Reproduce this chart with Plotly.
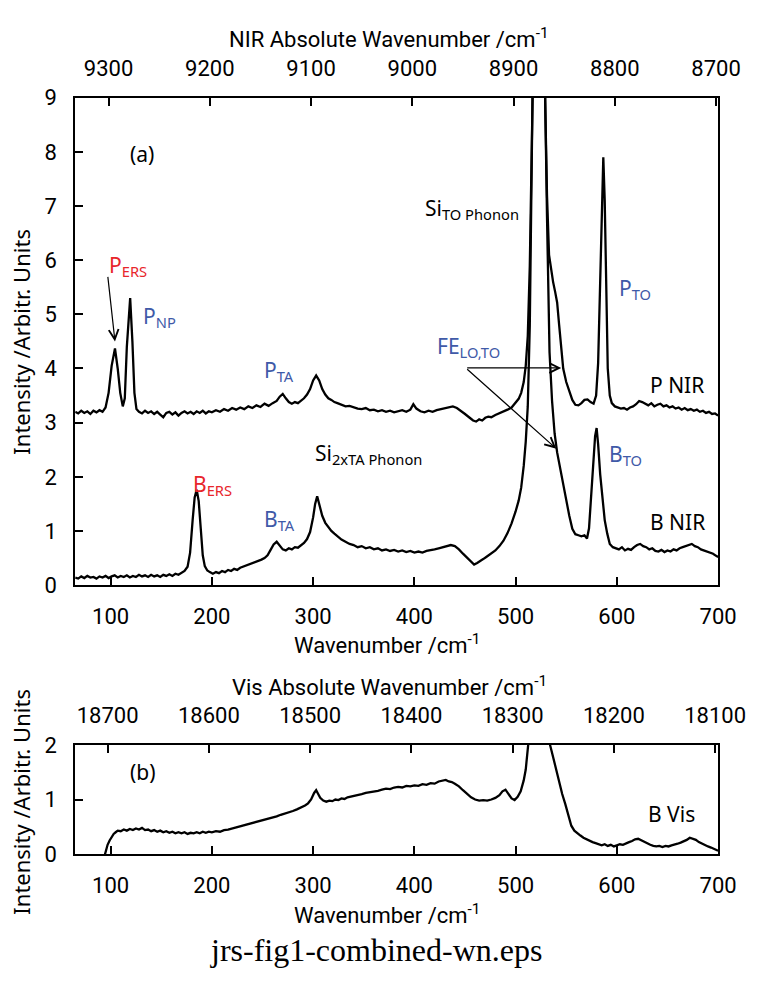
import plotly.graph_objects as go

# ---------------- data (Raman shift / cm^-1 , intensity) ----------------
p_nir_x = [65, 68, 71, 74, 77, 80, 83, 86, 89, 92, 95, 98, 101, 104.3, 107, 109.5, 112, 114, 116, 119.3,
           121.5, 123.5, 125.5, 128, 131, 134, 137, 140, 143, 146, 149, 152, 155, 158, 161, 164, 167, 170,
           173, 176, 179, 182, 185, 188, 191, 194, 197, 200, 204, 208, 212, 216, 220, 224, 228, 232, 236,
           240, 244, 248, 252, 256, 260, 264, 267, 270, 273, 276, 279, 282, 285, 288, 291, 294, 297, 300,
           303, 306, 309, 312, 315, 318, 321, 324, 328, 332, 336, 340, 344, 348, 352, 356, 360, 364, 368,
           372, 376, 380, 384, 388, 392, 396, 399, 402, 406, 410, 414, 418, 422, 426, 430, 434, 438, 442,
           446, 450, 454, 458, 461, 464, 467, 470, 473, 476, 480, 484, 488, 492, 496, 500, 503, 505.5, 508,
           510, 512, 514, 515.5, 517, 520, 523, 526, 528.5, 529.5, 531, 533, 535, 537, 539, 541, 543, 545,
           547, 550, 553, 556, 559, 562, 565, 568, 571, 574, 577, 579.5, 581.5, 583.5, 585.5, 586.6, 588,
           589.5, 591, 593, 595, 598, 601, 604, 607, 610, 613, 616, 619, 622, 625, 628, 631, 634, 637, 640,
           643, 646, 649, 652, 655, 658, 661, 664, 667, 670, 673, 676, 679, 682, 685, 688, 691, 694, 697, 700]
p_nir_y = [3.20, 3.17, 3.22, 3.18, 3.21, 3.16, 3.22, 3.19, 3.23, 3.20, 3.28, 3.55, 4.05, 4.37, 4.00, 3.55,
           3.30, 3.45, 4.40, 5.30, 4.50, 3.55, 3.25, 3.20, 3.17, 3.22, 3.18, 3.21, 3.16, 3.20, 3.15, 3.10,
           3.18, 3.20, 3.15, 3.19, 3.13, 3.18, 3.21, 3.17, 3.20, 3.16, 3.21, 3.18, 3.22, 3.17, 3.21, 3.19,
           3.23, 3.20, 3.25, 3.22, 3.27, 3.24, 3.28, 3.25, 3.30, 3.27, 3.32, 3.29, 3.35, 3.31, 3.36, 3.40,
           3.48, 3.53, 3.45, 3.38, 3.35, 3.38, 3.36, 3.40, 3.45, 3.52, 3.62, 3.78, 3.87, 3.78, 3.62, 3.52,
           3.45, 3.42, 3.38, 3.36, 3.33, 3.30, 3.31, 3.28, 3.26, 3.25, 3.27, 3.23, 3.24, 3.21, 3.23, 3.20,
           3.22, 3.19, 3.21, 3.23, 3.20, 3.24, 3.34, 3.26, 3.21, 3.19, 3.22, 3.20, 3.23, 3.25, 3.27, 3.28,
           3.30, 3.27, 3.22, 3.16, 3.10, 3.04, 3.02, 3.06, 3.04, 3.09, 3.11, 3.10, 3.14, 3.17, 3.20, 3.24,
           3.28, 3.36, 3.44, 3.55, 3.75, 4.05, 4.60, 5.90, 7.60, 9.60, 14.0, 16.0, 12.0, 9.60, 9.00, 7.20,
           6.10, 5.80, 5.60, 5.42, 5.22, 4.80, 4.38, 4.00, 3.75, 3.58, 3.42, 3.33, 3.32, 3.36, 3.42, 3.43,
           3.38, 3.35, 3.50, 4.10, 5.60, 7.40, 7.90, 7.10, 5.40, 4.00, 3.50, 3.36, 3.30, 3.28, 3.26, 3.27,
           3.24, 3.28, 3.30, 3.34, 3.40, 3.38, 3.35, 3.32, 3.36, 3.30, 3.33, 3.35, 3.30, 3.32, 3.28, 3.30,
           3.26, 3.28, 3.24, 3.27, 3.23, 3.25, 3.22, 3.24, 3.20, 3.22, 3.18, 3.20, 3.16, 3.17, 3.13]

b_nir_x = [65, 68, 71, 74, 77, 80, 83, 86, 89, 92, 95, 98, 101, 104, 107, 110, 113, 116, 119, 122, 125, 128,
           131, 134, 137, 140, 143, 146, 149, 152, 155, 158, 161, 164, 167, 170, 173, 176, 178.5, 181, 183,
           185, 187, 189, 191, 193, 195.5, 198, 201, 204, 207, 210, 213, 216, 219, 222, 225, 228, 231, 234,
           237, 240, 243, 246, 249, 252, 255, 258, 261, 264, 267, 270, 273, 276, 279, 282, 285, 288, 291,
           294, 297, 300, 302, 304, 306, 309, 312, 315, 318, 321, 324, 328, 332, 336, 340, 344, 348, 352,
           356, 360, 364, 368, 372, 376, 380, 384, 388, 392, 396, 400, 404, 408, 412, 416, 420, 424, 428,
           432, 436, 440, 444, 448, 452, 456, 459, 462, 465, 468, 471, 474, 477, 480, 484, 488, 492, 496,
           500, 503, 505.5, 508, 510, 512, 514, 516, 517.5, 520.5, 524, 527, 529, 531, 533.5, 536, 538.5,
           541, 544, 547, 550, 553, 556, 559, 562, 565, 568, 570.5, 572.5, 574.5, 576.5, 578.5, 580, 581.5,
           583.5, 585.5, 588, 590.5, 593, 596, 599, 602, 605, 608, 611, 614, 617, 620, 623, 626, 629, 632,
           635, 638, 641, 644, 647, 650, 653, 656, 659, 662, 665, 668, 671, 674, 677, 680, 683, 686, 689,
           692, 695, 698, 700]
b_nir_y = [0.14, 0.12, 0.16, 0.13, 0.17, 0.14, 0.15, 0.12, 0.16, 0.14, 0.17, 0.13, 0.16, 0.18, 0.14, 0.17,
           0.15, 0.18, 0.14, 0.17, 0.15, 0.19, 0.16, 0.18, 0.15, 0.19, 0.16, 0.18, 0.15, 0.19, 0.17, 0.20,
           0.17, 0.21, 0.19, 0.23, 0.26, 0.34, 0.60, 1.20, 1.62, 1.76, 1.55, 1.05, 0.55, 0.35, 0.27, 0.24,
           0.21, 0.24, 0.22, 0.26, 0.24, 0.28, 0.26, 0.30, 0.28, 0.32, 0.34, 0.36, 0.38, 0.40, 0.42, 0.45,
           0.47, 0.50, 0.55, 0.65, 0.75, 0.80, 0.74, 0.66, 0.64, 0.68, 0.66, 0.70, 0.69, 0.73, 0.78, 0.85,
           0.98, 1.25, 1.50, 1.64, 1.50, 1.28, 1.15, 1.07, 1.00, 0.95, 0.90, 0.84, 0.80, 0.76, 0.74, 0.70,
           0.72, 0.68, 0.70, 0.66, 0.68, 0.64, 0.66, 0.63, 0.65, 0.62, 0.64, 0.61, 0.63, 0.60, 0.62, 0.60,
           0.63, 0.64, 0.66, 0.68, 0.70, 0.72, 0.74, 0.72, 0.66, 0.58, 0.50, 0.44, 0.38, 0.41, 0.44, 0.48,
           0.52, 0.56, 0.60, 0.64, 0.72, 0.82, 0.96, 1.14, 1.36, 1.56, 1.80, 2.20, 2.65, 3.30, 4.80, 7.50,
           9.70, 15.0, 13.0, 10.5, 9.20, 6.80, 4.30, 3.40, 2.80, 2.45, 2.15, 1.88, 1.58, 1.28, 1.04, 0.94,
           0.92, 0.90, 0.92, 0.86, 1.05, 1.60, 2.30, 2.75, 2.90, 2.60, 2.05, 1.60, 1.20, 0.95, 0.76, 0.70,
           0.68, 0.66, 0.70, 0.64, 0.67, 0.65, 0.70, 0.74, 0.76, 0.72, 0.70, 0.66, 0.68, 0.63, 0.62, 0.65,
           0.61, 0.64, 0.62, 0.66, 0.64, 0.68, 0.70, 0.72, 0.74, 0.76, 0.72, 0.70, 0.66, 0.64, 0.61, 0.60,
           0.58, 0.54, 0.52]

b_vis_x = [93, 95, 97, 99, 101, 103, 105, 107, 110, 113, 116, 119, 122, 125, 128, 131, 134, 137, 140, 143,
           146, 149, 152, 155, 158, 161, 164, 167, 170, 173, 176, 179, 182, 185, 188, 191, 194, 197, 200,
           204, 208, 212, 216, 220, 224, 228, 232, 236, 240, 244, 248, 252, 256, 260, 264, 268, 272, 276,
           280, 284, 288, 292, 295, 298, 301, 303, 305, 307, 310, 313, 316, 319, 322, 325, 328, 331, 334,
           337, 340, 344, 348, 352, 356, 360, 364, 368, 372, 376, 380, 384, 388, 392, 396, 400, 404, 408,
           412, 416, 420, 424, 428, 431, 434, 437, 440, 444, 448, 452, 456, 460, 464, 468, 472, 476, 480,
           484, 487, 490, 493, 496, 499, 502, 505, 508, 510, 512, 514, 518, 522, 528, 532, 534, 537, 540,
           543, 546, 549, 552, 555, 558, 561, 564, 567, 570, 573, 576, 579, 582, 585, 588, 591, 594, 597,
           600, 603, 606, 609, 612, 615, 618, 621, 624, 627, 630, 633, 636, 639, 642, 645, 648, 651, 654,
           657, 660, 663, 666, 669, 672, 675, 678, 681, 684, 687, 690, 693, 696, 699, 700]
b_vis_y = [-0.10, 0.05, 0.17, 0.25, 0.32, 0.37, 0.40, 0.43, 0.42, 0.45, 0.43, 0.46, 0.44, 0.47, 0.45, 0.48,
           0.44, 0.45, 0.42, 0.44, 0.41, 0.43, 0.40, 0.42, 0.39, 0.41, 0.38, 0.40, 0.38, 0.40, 0.37, 0.39,
           0.38, 0.40, 0.38, 0.41, 0.39, 0.41, 0.40, 0.42, 0.41, 0.44, 0.45, 0.47, 0.48, 0.51, 0.52, 0.55,
           0.56, 0.59, 0.60, 0.63, 0.64, 0.67, 0.69, 0.72, 0.74, 0.77, 0.79, 0.82, 0.85, 0.89, 0.93, 1.00,
           1.12, 1.17, 1.10, 1.03, 0.98, 0.96, 0.98, 0.97, 1.00, 0.99, 1.02, 1.01, 1.04, 1.05, 1.07, 1.08,
           1.10, 1.12, 1.13, 1.15, 1.16, 1.18, 1.20, 1.19, 1.22, 1.23, 1.22, 1.25, 1.24, 1.26, 1.25, 1.28,
           1.27, 1.30, 1.29, 1.33, 1.35, 1.36, 1.33, 1.32, 1.29, 1.24, 1.17, 1.10, 1.04, 1.00, 0.98, 0.99,
           0.98, 1.00, 1.03, 1.08, 1.15, 1.18, 1.10, 1.02, 0.99, 1.05, 1.15, 1.35, 1.55, 1.85, 2.30, 4.00,
           5.00, 4.00, 2.50, 2.00, 1.78, 1.55, 1.30, 1.10, 0.92, 0.72, 0.52, 0.43, 0.38, 0.34, 0.30, 0.27,
           0.25, 0.22, 0.20, 0.18, 0.16, 0.18, 0.15, 0.17, 0.14, 0.16, 0.18, 0.17, 0.20, 0.22, 0.24, 0.27,
           0.28, 0.25, 0.22, 0.19, 0.17, 0.15, 0.14, 0.15, 0.13, 0.15, 0.14, 0.16, 0.17, 0.19, 0.21, 0.23,
           0.26, 0.30, 0.28, 0.26, 0.22, 0.19, 0.16, 0.14, 0.12, 0.10, 0.07, 0.06]

shift_range = [65, 700]
shift_ticks = [100, 200, 300, 400, 500, 600, 700]
nir_laser = 9398.0      # 1064 nm excitation, cm^-1
vis_laser = 18797.0     # 532 nm excitation, cm^-1
nir_ticks = [9300, 9200, 9100, 9000, 8900, 8800, 8700]
vis_ticks = [18700, 18600, 18500, 18400, 18300, 18200, 18100]
top_y_range = [0, 9]
bot_y_range = [0, 2]

# ---------------- figure ----------------
W, H = 776, 986
X0, X1 = 78, 745
TOP_Y0, TOP_Y1 = 88, 588
BOT_Y0, BOT_Y1 = 752, 864

def py(v):
    return 1 - v / H

def px(v):
    return v / W

TICKFONT = dict(family="Roboto, sans-serif", size=22, color="black")
TXTFONT = "Noto Sans, Open Sans, sans-serif"
RED = "#e8262b"
BLUE = "#3f5aa8"

nir_range = [nir_laser - shift_range[0], nir_laser - shift_range[1]]
vis_range = [vis_laser - shift_range[0], vis_laser - shift_range[1]]

fig = go.Figure()
line = dict(color="black", width=2.3)
fig.add_trace(go.Scatter(x=p_nir_x, y=p_nir_y, mode="lines", line=line, xaxis="x", yaxis="y",
                         showlegend=False, hoverinfo="skip"))
fig.add_trace(go.Scatter(x=b_nir_x, y=b_nir_y, mode="lines", line=line, xaxis="x", yaxis="y",
                         showlegend=False, hoverinfo="skip"))
fig.add_trace(go.Scatter(x=b_vis_x, y=b_vis_y, mode="lines", line=line, xaxis="x3", yaxis="y3",
                         showlegend=False, hoverinfo="skip"))
# empty traces so that the absolute-wavenumber axes are drawn
fig.add_trace(go.Scatter(x=nir_range, y=[None, None], mode="lines", xaxis="x2", yaxis="y",
                         showlegend=False, hoverinfo="skip"))
fig.add_trace(go.Scatter(x=vis_range, y=[None, None], mode="lines", xaxis="x4", yaxis="y3",
                         showlegend=False, hoverinfo="skip"))

common_x = dict(showgrid=False, zeroline=False, showline=True, linecolor="black", linewidth=2,
                ticks="inside", ticklen=8, tickwidth=1.5, tickcolor="black", tickfont=TICKFONT)

dom_x = [px(X0), px(X1)]
fig.update_layout(
    width=W, height=H, margin=dict(l=0, r=0, t=0, b=0),
    paper_bgcolor="white", plot_bgcolor="white",
    xaxis=dict(domain=dom_x, anchor="y", range=shift_range, tickvals=shift_ticks,
               ticktext=[str(v) for v in shift_ticks], mirror=True, ticklabelstandoff=11, **common_x),
    xaxis2=dict(overlaying="x", side="top", anchor="y", range=nir_range, tickvals=nir_ticks,
                ticktext=[str(v) for v in nir_ticks], ticklabelstandoff=11, **common_x),
    yaxis=dict(domain=[py(TOP_Y1), py(TOP_Y0)], anchor="x", range=top_y_range, dtick=1,
               mirror=True, ticklabelstandoff=12, **common_x),
    xaxis3=dict(domain=dom_x, anchor="y3", range=shift_range, tickvals=shift_ticks,
                ticktext=[str(v) for v in shift_ticks], mirror=True, ticklabelstandoff=11, **common_x),
    xaxis4=dict(overlaying="x3", side="top", anchor="y3", range=vis_range, tickvals=vis_ticks,
                ticktext=[str(v) for v in vis_ticks], ticklabelstandoff=11, **common_x),
    yaxis3=dict(domain=[py(BOT_Y1), py(BOT_Y0)], anchor="x3", range=bot_y_range, dtick=1,
                mirror=True, ticklabelstandoff=12, **common_x),
)

ann = []

def paper_text(text, xpix, ypix, size=22, family=TICKFONT["family"], angle=0, color="black"):
    ann.append(dict(text=text, x=px(xpix), y=py(ypix), xref="paper", yref="paper",
                    showarrow=False, textangle=angle, xanchor="center", yanchor="middle",
                    font=dict(family=family, size=size, color=color)))

# axis titles
paper_text("NIR Absolute Wavenumber /cm<sup>-1</sup>", 404, 27)
paper_text("Wavenumber /cm<sup>-1</sup>", 402, 648)
paper_text("Vis Absolute Wavenumber /cm<sup>-1</sup>", 404, 692)
paper_text("Wavenumber /cm<sup>-1</sup>", 402, 925)
paper_text("Intensity /Arbitr. Units", 22, 338, size=22, family=TXTFONT, angle=-90)
paper_text("Intensity /Arbitr. Units", 22, 810, size=22, family=TXTFONT, angle=-90)
paper_text("jrs-fig1-combined-wn.eps", 390, 962, size=32, family="Liberation Serif, serif")

def data_text(text, x, y, color="black", ax="x", ay="y", size=21, xanchor="left"):
    ann.append(dict(text=text, x=x, y=y, xref=ax, yref=ay, showarrow=False,
                    xanchor=xanchor, yanchor="middle",
                    font=dict(family=TXTFONT, size=size, color=color)))

data_text("(a)", 130.7, 7.97, xanchor="center")
data_text("P<sub>ERS</sub>", 96, 5.9, RED)
data_text("P<sub>NP</sub>", 130, 4.95, BLUE)
data_text("P<sub>TA</sub>", 250, 3.95, BLUE)
data_text("B<sub>ERS</sub>", 179, 1.85, RED)
data_text("B<sub>TA</sub>", 250, 1.2, BLUE)
data_text("Si<sub>2xTA Phonon</sub>", 300, 2.42)
data_text("Si<sub>TO Phonon</sub>", 409, 6.95)
data_text("FE<sub>LO,TO</sub>", 420, 4.4, BLUE)
data_text("P<sub>TO</sub>", 600, 5.47, BLUE)
data_text("P NIR", 630.5, 3.69)
data_text("B<sub>TO</sub>", 590.5, 2.4, BLUE)
data_text("B NIR", 630.5, 1.17)
data_text("(b)", 131.7, 1.5, ax="x3", ay="y3", xanchor="center")
data_text("B Vis", 628.5, 0.73, ax="x3", ay="y3")

def arrow(x, y, x_from, y_from):
    ann.append(dict(x=x, y=y, ax=x_from, ay=y_from, xref="x", yref="y", axref="x", ayref="y",
                    text="", showarrow=True, arrowhead=5, arrowsize=1.6, arrowwidth=1.2,
                    arrowcolor="black"))

arrow(104.3, 4.5, 97.1, 5.72)
arrow(545, 4.01, 450.7, 4.01)
arrow(540.2, 2.52, 450.7, 4.01)

fig.update_layout(annotations=ann)
fig.write_html(
    "out.html",
    post_script=("document.documentElement.style.margin='0';document.body.style.margin='0';"
                 "document.documentElement.style.overflow='hidden';document.body.style.overflow='hidden';"),
)
